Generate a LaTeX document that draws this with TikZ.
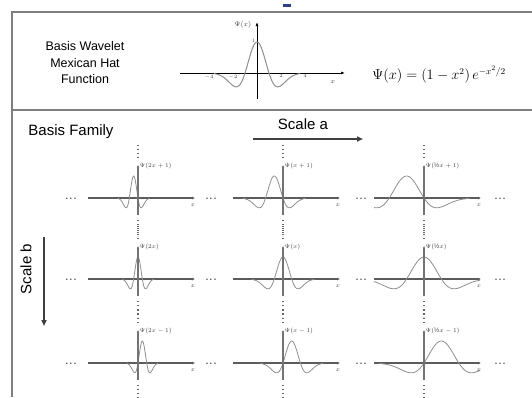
\documentclass[tikz,border=0pt]{standalone}
\usepackage{fontspec}
\setmainfont{Liberation Sans}
\usepackage{amsmath}
\usetikzlibrary{arrows.meta,positioning}
\definecolor{framegray}{HTML}{7F7F7F}
\definecolor{axisgray}{HTML}{5C5C5C}
\definecolor{curvegray}{HTML}{8E8E8E}
\definecolor{markblue}{HTML}{2B3F8C}

\begin{document}
\begin{tikzpicture}[
  x=1pt, y=-1pt,
  frame/.style={draw=framegray, line width=1.5pt},
  title/.style={font=\fontsize{15}{17}\selectfont, inner sep=0pt, align=center},
  scalearr/.style={-{Triangle[length=6pt,width=5pt]}, line width=2pt, draw=black!75},
  haxis/.style={-{Latex[length=3pt,width=3pt]}, line width=1.8pt, draw=axisgray},
  vaxis/.style={-{Latex[length=2.5pt,width=2.5pt]}, line width=1.2pt, draw=black!55},
  vdots/.style={draw=black!60, line width=1.3pt, dash pattern=on 1.3pt off 2.7pt},
  curve/.style={draw=curvegray, line width=0.8pt},
  fnlabel/.style={font=\fontsize{6.5}{7}\selectfont, inner sep=0.5pt, text=black!75},
  dotsep/.style={font=\bfseries\fontsize{9}{9}\selectfont, text=black!70, inner sep=0pt, anchor=base},
]
  \useasboundingbox (0,0) rectangle (532,397);

  % Frame
  \draw[frame] (532,12) -- (12,12) -- (12,397);
  \draw[frame] (12,110) -- (532,110);
  \fill[markblue] (283,4) rectangle (291,7);

  % Basis wavelet
  \node[title, font=\fontsize{12.5}{16.5}\selectfont] (wavelet) at (85,63) {Basis Wavelet\\Mexican Hat\\Function};
  \draw[-{Latex[length=4pt,width=3pt]}, line width=0.8pt] (180,73) -- (345,73);
  \draw[-{Latex[length=4pt,width=3pt]}, line width=0.8pt] (257,99) -- (257,22);
  \draw[curve, line width=1pt] plot[domain=-3.6:3.6, samples=90, variable=\t]
    ({257+12*\t},{73-31*(1-(\t)^2)*exp(-0.5*(\t)^2)});
  \foreach \tk in {-4,-2,2,4}
    \node[fnlabel, font=\fontsize{4}{4}\selectfont, below] (tick\tk) at (257+12*\tk,74) {$\tk$};
  \node[fnlabel, font=\fontsize{4}{4}\selectfont, left] (tickone) at (256,41) {$1$};
  \node[fnlabel, font=\fontsize{7.5}{8}\selectfont, left] (psilbl) at (252,25) {$\Psi(x)$};
  \node[fnlabel, font=\fontsize{7.5}{8}\selectfont] (xlbl) at (333,82) {$x$};
  \node[font=\fontsize{13.5}{15}\selectfont, inner sep=0pt] (formula) at (439,75) {$\Psi(x) = (1 - x^2)\, e^{-x^2/2}$};

  % Basis family
  \node[title] (family) at (71,132) {Basis Family};
  \node[title] (scalea) at (303,124) {Scale a};
  \coordinate (sa0) at (253,139);
  \coordinate (sa1) at (363,139);
  \draw[scalearr] (sa0) -- (sa1);
  \node[title, rotate=90] (scaleb) at (26,269) {Scale b};
  \coordinate (sb0) at (44,237);
  \coordinate (sb1) at (44,326);
  \draw[scalearr] (sb0) -- (sb1);

  \foreach \cy/\b/\bl [count=\r] in {198/1/+1, 279/0/{}, 363/-1/-1} {
    \foreach \cx/\a/\sl [count=\c] in {138/2/2x, 283/1/x, 424/0.5/{\text{½}x}} {
      \pgfmathsetmacro\tmin{8.7*(-3.6-(\b))/\a}
      \pgfmathsetmacro\tmax{8.7*(3.6-(\b))/\a}
      \draw[haxis] (\cx-50,\cy) -- (\cx+57,\cy);
      \begin{scope}
        \clip (\cx-50,\cy-40) rectangle (\cx+56,\cy+20);
        \draw[curve] plot[domain=\tmin:\tmax, samples=80, variable=\t]
          ({\cx+\t},{\cy-22*(1-(\a*\t/8.7+(\b))^2)*exp(-0.5*(\a*\t/8.7+(\b))^2)});
      \end{scope}
      \draw[vaxis] (\cx,\cy+17) -- (\cx,\cy-33);
      \draw[vdots] (\cx,\cy-53) -- (\cx,\cy-40);
      \draw[vdots] (\cx,\cy+22) -- (\cx,\cy+38);
      \node[fnlabel, anchor=west] (lbl\r\c) at (\cx+1,\cy-32) {$\Psi(\sl\bl)$};
      \node[fnlabel] (x\r\c) at (\cx+55,\cy+7) {$x$};
    }
    \foreach \dx [count=\k] in {71,211,361,500}
      \node[dotsep] (dots\r\k) at (\dx,\cy+1.5) {.\,.\,.};
  }
\end{tikzpicture}
\end{document}
